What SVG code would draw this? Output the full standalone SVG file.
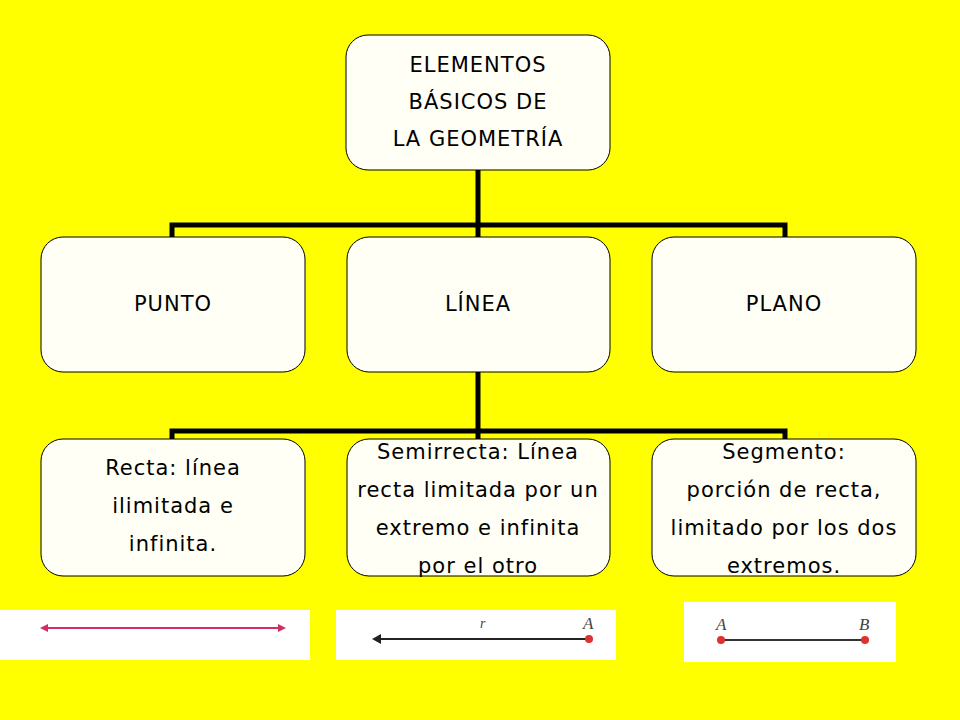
<svg xmlns="http://www.w3.org/2000/svg" width="960" height="720" viewBox="0 0 960 720">
<style>
.box{fill:#fffff5;stroke:#000;stroke-width:1}
.t{font-family:"DejaVu Sans",sans-serif;font-size:21px;fill:#000;text-anchor:middle;letter-spacing:1px}
.c{stroke:#000;stroke-width:5;fill:none}
.w{fill:#fff}
</style>
<rect width="960" height="720" fill="#ffff00"/>
<g id="connectors">
<path class="c" d="M478 170V225M172 238V225H785V238M478 225V238"/>
<path class="c" d="M478 372V431M172 440V431H785V440M478 431V440"/>
</g>
<g id="root"><rect class="box" x="346" y="35" width="264" height="135" rx="22"/>
<text class="t" x="478" y="72">ELEMENTOS</text><text class="t" x="478" y="109">BÁSICOS DE</text><text class="t" x="478" y="146">LA GEOMETRÍA</text></g>
<g id="punto"><rect class="box" x="41" y="237" width="264" height="135" rx="22"/><text class="t" x="173" y="311">PUNTO</text></g>
<g id="linea"><rect class="box" x="347" y="237" width="263" height="135" rx="22"/><text class="t" x="478" y="311">LÍNEA</text></g>
<g id="plano"><rect class="box" x="652" y="237" width="264" height="135" rx="22"/><text class="t" x="784" y="311">PLANO</text></g>
<g id="recta"><rect class="box" x="41" y="439" width="264" height="137" rx="22"/>
<text class="t" x="173" y="475">Recta: línea</text><text class="t" x="173" y="513">ilimitada e</text><text class="t" x="173" y="551">infinita.</text></g>
<g id="semirrecta"><rect class="box" x="347" y="439" width="263" height="137" rx="22"/>
<text class="t" x="478" y="459">Semirrecta: Línea</text><text class="t" x="478" y="497">recta limitada por un</text><text class="t" x="478" y="535">extremo e infinita</text><text class="t" x="478" y="573">por el otro</text></g>
<g id="segmento"><rect class="box" x="652" y="439" width="264" height="137" rx="22"/>
<text class="t" x="784" y="459">Segmento:</text><text class="t" x="784" y="497">porción de recta,</text><text class="t" x="784" y="535">limitado por los dos</text><text class="t" x="784" y="573">extremos.</text></g>
<g id="img1"><rect class="w" x="0" y="610" width="310" height="50"/>
<line x1="44" y1="628" x2="282" y2="628" stroke="#d03060" stroke-width="2"/>
<path d="M40 628l8-4v8zM286 628l-8-4v8z" fill="#d03060"/></g>
<g id="img2"><rect class="w" x="336" y="610" width="280" height="50"/>
<line x1="208" y1="0" x2="0" y2="0" transform="translate(380 639)" stroke="#222" stroke-width="2"/>
<path d="M372 639l9-5v10z" fill="#222"/><circle cx="589" cy="639" r="4" fill="#e03030"/>
<text x="480" y="628" font-family="Liberation Serif,serif" font-style="italic" font-size="14" fill="#444">r</text>
<text x="583" y="629" font-family="Liberation Serif,serif" font-style="italic" font-size="17" fill="#444">A</text></g>
<g id="img3"><rect class="w" x="684" y="602" width="212" height="60"/>
<line x1="721" y1="640" x2="865" y2="640" stroke="#333" stroke-width="2"/>
<circle cx="721" cy="640" r="4" fill="#e03030"/><circle cx="865" cy="640" r="4" fill="#e03030"/>
<text x="716" y="630" font-family="Liberation Serif,serif" font-style="italic" font-size="17" fill="#444">A</text>
<text x="859" y="630" font-family="Liberation Serif,serif" font-style="italic" font-size="17" fill="#444">B</text></g>
</svg>
